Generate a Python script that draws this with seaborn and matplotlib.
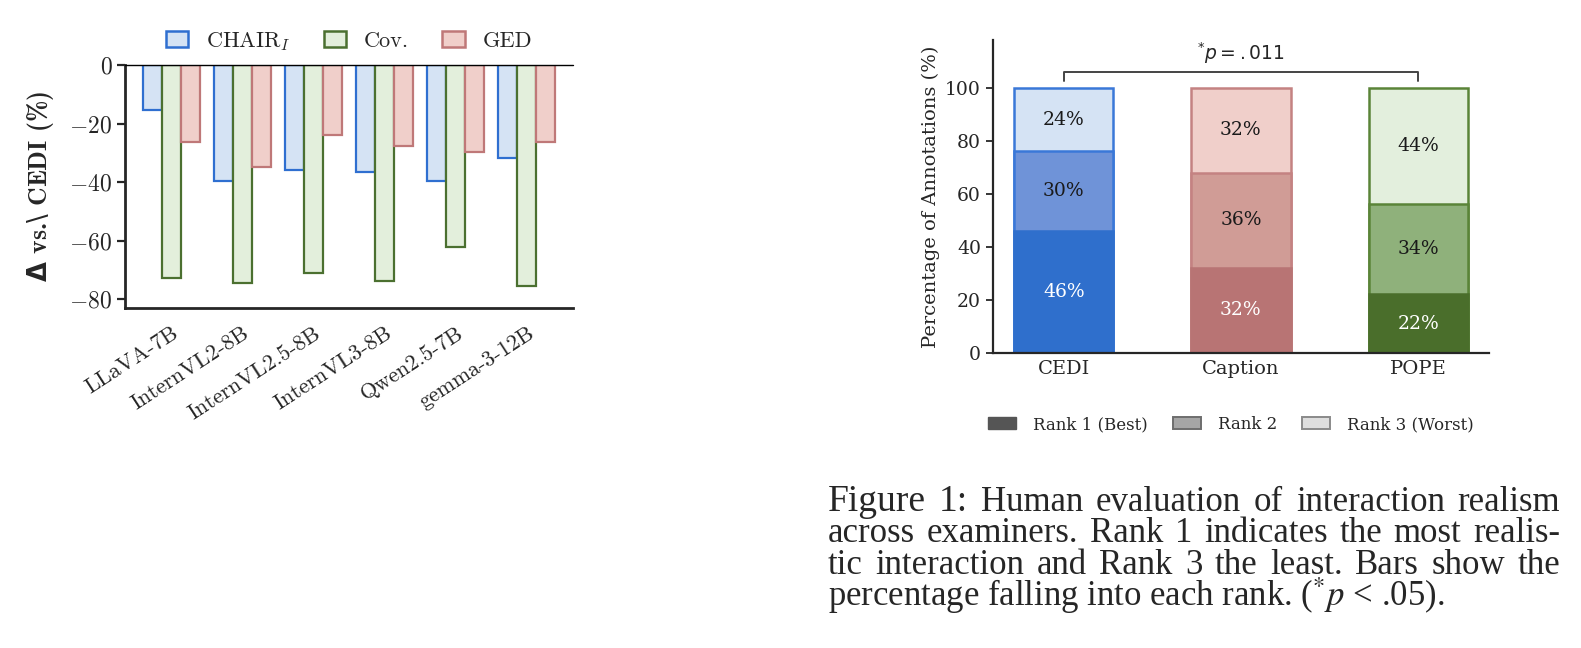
import numpy as np
import pandas as pd
import matplotlib
matplotlib.use("Agg")
import matplotlib.pyplot as plt
from matplotlib.patches import Patch
import seaborn as sns

sns.set_style("ticks")
plt.rcParams["font.family"] = ["cmr10", "DejaVu Serif"]
plt.rcParams["mathtext.fontset"] = "cm"
plt.rcParams["axes.formatter.use_mathtext"] = True

# left panel: drop vs CEDI per model
models = ["LLaVA-7B", "InternVL2-8B", "InternVL2.5-8B", "InternVL3-8B", "Qwen2.5-7B", "gemma-3-12B"]
chair_i = [-15.4, -39.7, -36.0, -36.4, -39.7, -31.6]
cov = [-72.9, -74.3, -70.9, -73.9, -62.3, -75.4]
ged = [-26.2, -34.7, -23.9, -27.5, -29.8, -26.3]
metric_names = ["CHAIR$_I$", "Cov.", "GED"]
metric_fill = ["#d5e3f4", "#e3efdc", "#f0cfca"]
metric_edge = ["#2f6fd0", "#4b7030", "#bf7878"]

# right panel: human ranking shares
methods = ["CEDI", "Caption", "POPE"]
rank1 = [46, 32, 22]
rank2 = [30, 36, 34]
rank3 = [24, 32, 44]
rank_names = ["Rank 1 (Best)", "Rank 2", "Rank 3 (Worst)"]
shade = {
    "CEDI": ["#2f6fcc", "#6f93d8", "#d5e3f4"],
    "Caption": ["#b87474", "#d09c96", "#f0cfca"],
    "POPE": ["#4a6e2b", "#8fb17b", "#e3efdd"],
}
outline = {"CEDI": "#3a78d8", "Caption": "#c48282", "POPE": "#5a8438"}

caption_lines = [
    "Figure 1: Human evaluation of interaction realism",
    "across examiners. Rank 1 indicates the most realis-",
    "tic interaction and Rank 3 the least. Bars show the",
    r"percentage falling into each rank. ($^{*}p$ < .05).",
]

fig = plt.figure(figsize=(15.81, 6.48), dpi=100)

# ---------------- left chart ----------------
ax1 = fig.add_axes([0.079, 0.5247, 0.2835, 0.375])
df = pd.DataFrame({
    "model": models * 3,
    "delta": chair_i + cov + ged,
    "metric": np.repeat(metric_names, len(models)),
})
sns.barplot(data=df, x="model", y="delta", hue="metric", hue_order=metric_names,
            palette=metric_fill, saturation=1, width=0.8, ax=ax1, legend=False)
for cont, ec in zip(ax1.containers, metric_edge):
    for p in cont:
        p.set_edgecolor(ec)
        p.set_linewidth(1.6)
ax1.axhline(0, color="black", lw=1.0, clip_on=False, zorder=5)
ax1.set_ylim(-83, 0)
ax1.set_xlim(-0.65, 5.65)
ax1.set_yticks([0, -20, -40, -60, -80])
ax1.set_xlabel("")
ax1.set_ylabel(r"$\mathbf{\Delta}$ vs.$\backslash$ CEDI (%)", fontsize=18.5,
               fontfamily="cmb10", math_fontfamily="dejavusans", labelpad=10)
ax1.tick_params(axis="y", labelsize=17, length=6, width=1.6, direction="out", pad=3)
ax1.tick_params(axis="x", length=0, labelsize=16, pad=11)
plt.setp(ax1.get_xticklabels(), rotation=33, ha="right", rotation_mode="anchor")
sns.despine(ax=ax1)
for s in ["left", "bottom"]:
    ax1.spines[s].set_linewidth(2.0)
handles = [Patch(facecolor=f, edgecolor=e, lw=1.8) for f, e in zip(metric_fill, metric_edge)]
ax1.legend(handles, metric_names, loc="lower center", bbox_to_anchor=(0.5, 1.0),
           ncol=3, frameon=False, fontsize=16, handlelength=1.0, handleheight=0.7,
           columnspacing=1.5, handletextpad=0.8, borderaxespad=0.15)

# ---------------- right chart ----------------
ax2 = fig.add_axes([0.628, 0.4557, 0.3138, 0.4823])
layers = [
    (np.array(rank1) + np.array(rank2) + np.array(rank3), 2),
    (np.array(rank1) + np.array(rank2), 1),
    (np.array(rank1), 0),
]
for heights, k in layers:
    sns.barplot(x=methods, y=heights, hue=methods, palette=[shade[m][k] for m in methods],
                saturation=1, width=0.56, legend=False, ax=ax2)
for bar in ax2.patches:
    cx = bar.get_x() + bar.get_width() / 2
    m = methods[int(round(cx))]
    if bar.get_height() == rank1[methods.index(m)]:
        bar.set_edgecolor(shade[m][0])
    else:
        bar.set_edgecolor(outline[m])
    bar.set_linewidth(1.8)

for i, m in enumerate(methods):
    segs = [rank1[i], rank2[i], rank3[i]]
    base = 0
    for k, v in enumerate(segs):
        ax2.text(i, base + v / 2, f"{v}%", ha="center", va="center", fontsize=13.5,
                 fontfamily="DejaVu Serif", color="white" if k == 0 else "#1a1a1a")
        base += v

ax2.set_xlim(-0.4, 2.4)
ax2.set_ylim(0, 118)
ax2.set_yticks([0, 20, 40, 60, 80, 100])
ax2.yaxis.get_major_formatter().set_useMathText(False)
ax2.set_ylabel("Percentage of Annotations (%)", fontsize=14, fontfamily="DejaVu Serif",
               labelpad=4)
ax2.tick_params(axis="y", labelsize=13.5, length=5, width=1.3)
ax2.tick_params(axis="x", labelsize=14, length=0, pad=5)
plt.setp(ax2.get_xticklabels() + ax2.get_yticklabels(), fontfamily="DejaVu Serif")
sns.despine(ax=ax2)
for s in ["left", "bottom"]:
    ax2.spines[s].set_linewidth(1.6)

ax2.plot([0, 0, 2, 2], [102.5, 105.9, 105.9, 102.5], color="#444444", lw=1.4)
ax2.text(1, 108.3, r"$^{*}p = .011$", ha="center", va="bottom", fontsize=13.5,
         math_fontfamily="dejavusans", fontfamily="DejaVu Sans")

rank_handles = [Patch(facecolor="#555555", edgecolor="#555555"),
                Patch(facecolor="#a6a6a6", edgecolor="#6e6e6e", lw=1.4),
                Patch(facecolor="#dedede", edgecolor="#8a8a8a", lw=1.4)]
ax2.legend(rank_handles, rank_names, loc="upper center", bbox_to_anchor=(0.48, -0.155),
           ncol=3, frameon=False, prop={"family": "DejaVu Serif", "size": 12},
           handlelength=1.7, handleheight=0.75, columnspacing=1.5, handletextpad=1.0)

# ---------------- caption (justified like the paper) ----------------
W, H = 1581, 648
x0, x1 = 828, 1560
cap_size = 25
renderer = fig.canvas.get_renderer()
for j, line in enumerate(caption_lines):
    yb = 1 - (511 + j * 31.5) / H
    if j == len(caption_lines) - 1:
        fig.text(x0 / W, yb, line, fontsize=cap_size, fontfamily="Liberation Serif",
                 math_fontfamily="stix", ha="left", va="baseline")
        continue
    words = line.split(" ")
    texts = []
    for w in words:
        size = cap_size * 1.08 if (j == 0 and w in ("Figure", "1:")) else cap_size
        texts.append(fig.text(0, yb, w, fontsize=size, fontfamily="Liberation Serif",
                              ha="left", va="baseline"))
    widths = [t.get_window_extent(renderer=renderer).width for t in texts]
    gap = (x1 - x0 - sum(widths)) / (len(words) - 1)
    xpos = x0
    for t, wd in zip(texts, widths):
        t.set_x(xpos / W)
        xpos += wd + gap

fig.savefig("out.png", dpi=100)
